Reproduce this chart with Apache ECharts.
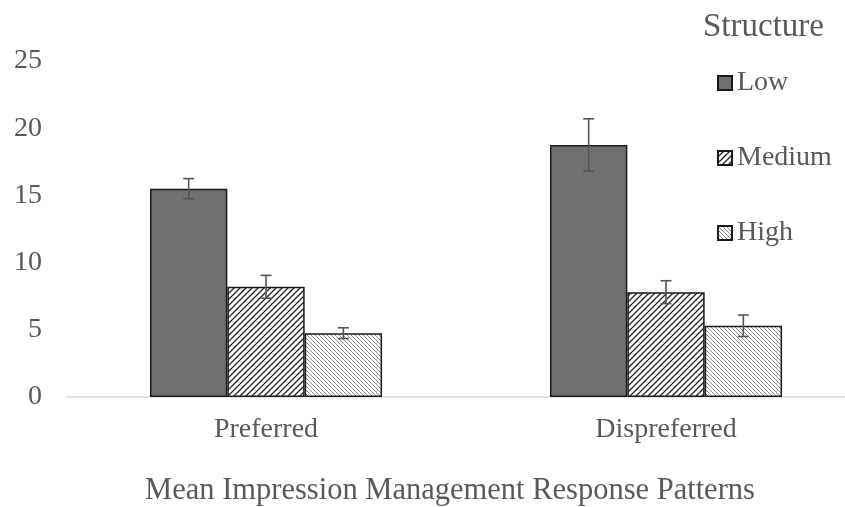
<!DOCTYPE html>
<html>
<head>
<meta charset="utf-8">
<script src="https://cdn.jsdelivr.net/npm/echarts@6/dist/echarts.min.js"></script>
<style>html,body{margin:0;padding:0;background:#fff}#chart{width:845px;height:507px}</style>
</head>
<body>
<div id="chart"></div>
<script>
const categories = ['Preferred', 'Dispreferred'];
const seriesNames = ['Low', 'Medium', 'High'];
const lowMeans = [15.5, 18.75];
const mediumMeans = [8.2, 7.8];
const highMeans = [4.75, 5.3];
const lowErr = [0.75, 1.95];
const mediumErr = [0.85, 0.85];
const highErr = [0.4, 0.8];
const yMin = 0, yMax = 25, yInterval = 5;
const axisTitle = 'Mean Impression Management Response Patterns';
const legendTitle = 'Structure';

const FONT = '"Liberation Serif", "Times New Roman", serif';
const TEXT = '#595959';

function hatch(size, dir, lineColor, lw) {
  const c = document.createElement('canvas');
  c.width = size; c.height = size;
  const g = c.getContext('2d');
  g.fillStyle = '#ffffff';
  g.fillRect(0, 0, size, size);
  g.strokeStyle = lineColor;
  g.lineWidth = lw;
  g.beginPath();
  if (dir === '/') {
    g.moveTo(0, size); g.lineTo(size, 0);
    g.moveTo(-1, 1); g.lineTo(1, -1);
    g.moveTo(size - 1, size + 1); g.lineTo(size + 1, size - 1);
  } else {
    g.moveTo(0, 0); g.lineTo(size, size);
    g.moveTo(size - 1, -1); g.lineTo(size + 1, 1);
    g.moveTo(-1, size - 1); g.lineTo(1, size + 1);
  }
  g.stroke();
  return { image: c, repeat: 'repeat' };
}

const fills = [
  '#707070',
  hatch(6, '/', '#222222', 1.3),
  hatch(4, '\\', '#8f8f8f', 1.0)
];
const means = [lowMeans, mediumMeans, highMeans];
const errs = [lowErr, mediumErr, highErr];

const barSeries = seriesNames.map((name, i) => ({
  name: name,
  type: 'bar',
  data: means[i],
  barGap: '0%',
  barCategoryGap: '42%',
  itemStyle: { color: fills[i], borderColor: '#1a1a1a', borderWidth: 1.5 },
  emphasis: { disabled: true },
  z: 2
}));

const errData = [];
seriesNames.forEach((n, si) => {
  categories.forEach((c, ci) => {
    errData.push([ci, means[si][ci], errs[si][ci], si]);
  });
});

const errSeries = {
  name: 'err',
  type: 'custom',
  z: 5,
  encode: { x: 0, y: 1 },
  data: errData,
  renderItem: function (params, api) {
    const ci = api.value(0), m = api.value(1), e = api.value(2), si = api.value(3);
    const c = api.coord([ci, m]);
    const band = api.size([1, 0])[0];
    const bw = band * 0.58 / 3;
    const x = c[0] + (si - 1) * bw;
    const t = api.coord([ci, m + e])[1];
    const b = api.coord([ci, m - e])[1];
    const cap = 5.5;
    const st = { stroke: '#555555', lineWidth: 1.6 };
    return {
      type: 'group',
      children: [
        { type: 'line', shape: { x1: x, y1: t, x2: x, y2: b }, style: st },
        { type: 'line', shape: { x1: x - cap, y1: t, x2: x + cap, y2: t }, style: st },
        { type: 'line', shape: { x1: x - cap, y1: b, x2: x + cap, y2: b }, style: st }
      ]
    };
  }
};

const chart = echarts.init(document.getElementById('chart'));
chart.setOption({
  backgroundColor: '#ffffff',
  animation: false,
  grid: { left: 66, top: 61, width: 800, height: 336, containLabel: false, outerBoundsMode: 'none' },
  xAxis: {
    type: 'category',
    data: categories,
    axisLine: { lineStyle: { color: '#d9d9d9', width: 1.5 } },
    axisTick: { show: false },
    axisLabel: { color: TEXT, fontFamily: FONT, fontSize: 28, margin: 19 }
  },
  yAxis: {
    type: 'value',
    min: yMin, max: yMax, interval: yInterval,
    axisLine: { show: false },
    axisTick: { show: false },
    splitLine: { show: false },
    axisLabel: { color: TEXT, fontFamily: FONT, fontSize: 28, margin: 24 }
  },
  legend: {
    data: seriesNames,
    orient: 'vertical',
    left: 712,
    top: 63,
    itemWidth: 14,
    itemHeight: 14,
    itemGap: 45,
    icon: 'rect',
    textStyle: { color: TEXT, fontFamily: FONT, fontSize: 28, lineHeight: 30 },
    selectedMode: false
  },
  graphic: [
    { type: 'text', left: 703, top: 11, style: { text: legendTitle, fill: TEXT, font: '33px ' + FONT } },
    { type: 'text', x: 450, y: 491, style: { text: axisTitle, fill: TEXT, font: '30.5px ' + FONT, textAlign: 'center', textVerticalAlign: 'middle' } }
  ],
  series: barSeries.concat([errSeries])
});
</script>
</body>
</html>
